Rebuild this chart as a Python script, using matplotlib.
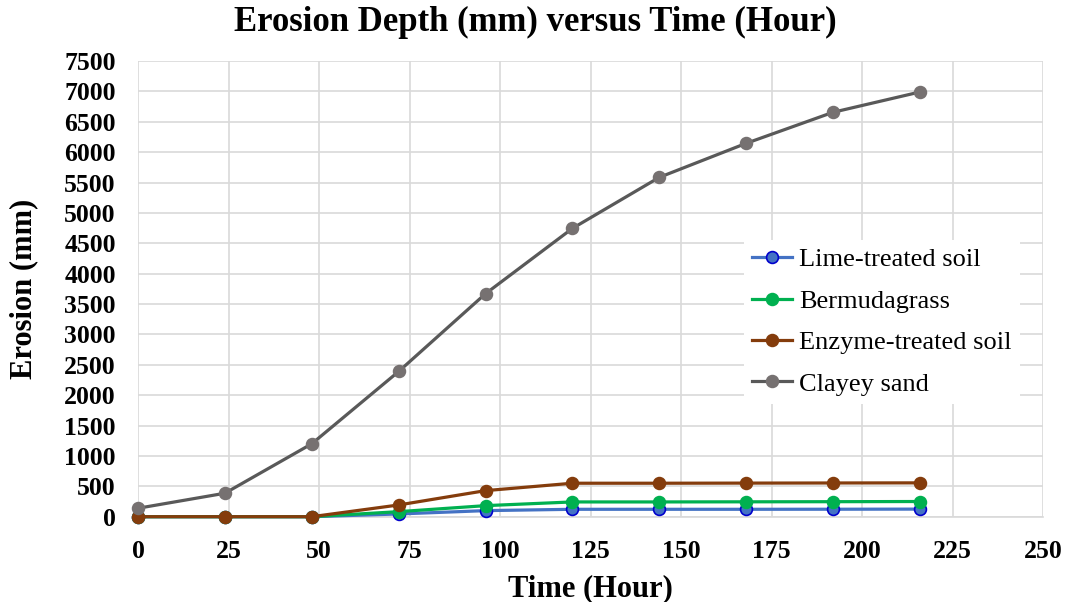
import matplotlib
matplotlib.use("Agg")
import matplotlib.pyplot as plt

plt.rcParams['font.family'] = ['Liberation Serif', 'DejaVu Serif']

time_h = [0, 24, 48, 72, 96, 120, 144, 168, 192, 216]
lime_treated = [0, 0, 0, 45, 100, 122, 122, 122, 123, 125]
bermudagrass = [0, 0, 0, 83, 182, 243, 243, 245, 247, 250]
enzyme_treated = [0, 0, 0, 193, 429, 551, 551, 553, 555, 557]
clayey_sand = [139, 386, 1200, 2390, 3670, 4745, 5585, 6145, 6656, 6990]

x_ticks = list(range(0, 251, 25))
y_ticks = list(range(0, 7501, 500))

fig = plt.figure(figsize=(10.7, 6.02), dpi=100)
ax = fig.add_axes([138 / 1070, 1 - 516.7 / 602, (1043 - 138) / 1070, (516.7 - 61) / 602])

series = [
    ("Lime-treated soil", lime_treated, "#4472C4", "#4472C4", "#0000CC"),
    ("Bermudagrass", bermudagrass, "#00B050", "#00B050", "#00B050"),
    ("Enzyme-treated soil", enzyme_treated, "#843C0C", "#843C0C", "#843C0C"),
    ("Clayey sand", clayey_sand, "#595959", "#767171", "#767171"),
]
for i, (name, vals, lc, mfc, mec) in enumerate(series):
    ax.plot(time_h, vals, color=lc, lw=2.3, marker="o", ms=8.5,
            mfc=mfc, mec=mec, mew=1.2, label=name, zorder=3 + i,
            clip_on=False)

ax.set_xlim(0, 250)
ax.set_ylim(0, 7500)
ax.set_xticks(x_ticks)
ax.set_yticks(y_ticks)
ax.grid(True, color="#D9D9D9", lw=1.2)
ax.set_axisbelow(True)
for s in ["top", "right", "left"]:
    ax.spines[s].set_visible(False)
ax.spines["bottom"].set_color("#D9D9D9")
ax.spines["bottom"].set_linewidth(1.2)
ax.tick_params(axis="y", length=0, labelsize=18.5, pad=16)
ax.tick_params(axis="x", length=0, labelsize=18.5, pad=17)
for lab in ax.get_xticklabels() + ax.get_yticklabels():
    lab.set_fontweight("bold")

ax.set_xlabel("Time (Hour)", fontsize=22, fontweight="bold", labelpad=8)
ax.set_ylabel("Erosion (mm)", fontsize=22, fontweight="bold", labelpad=19)
fig.text(0.5, 1 - 22 / 602, "Erosion Depth (mm) versus Time (Hour)",
         fontsize=25, fontweight="bold", ha="center", va="center")

leg = ax.legend(loc="upper left", bbox_to_anchor=((744 - 138) / 905, (516.7 - 240) / 455.7),
                fontsize=19, frameon=True, fancybox=False, edgecolor="none",
                facecolor="white", framealpha=1, handlelength=1.5,
                handletextpad=0.3, labelspacing=0.68, borderpad=0.3,
                borderaxespad=0)
leg.set_zorder(10)

fig.savefig("out.png", dpi=100)
